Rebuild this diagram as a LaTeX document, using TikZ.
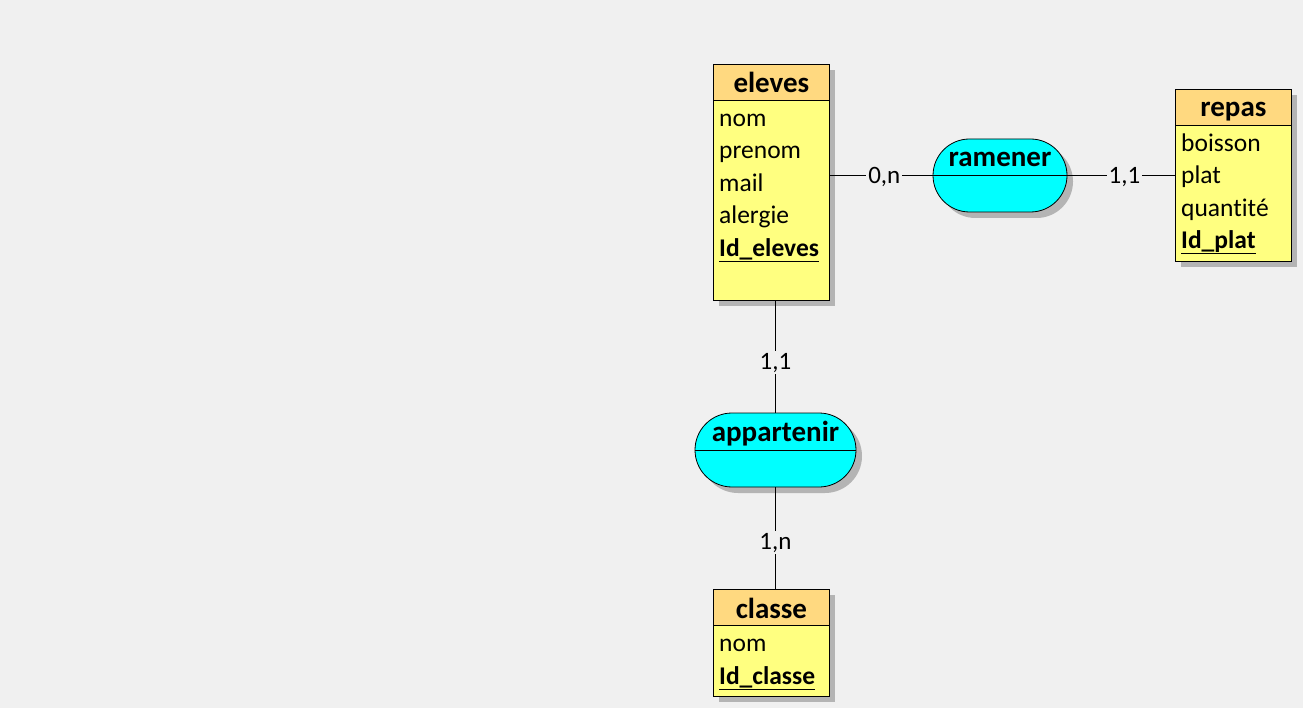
\documentclass[tikz,border=0pt]{standalone}
\usepackage{fontspec}
\setmainfont[RawFeature={-liga,-clig,-dlig}]{Carlito}
\usetikzlibrary{shapes.misc,shadows}
\definecolor{bg}{HTML}{F0F0F0}
\definecolor{entbody}{HTML}{FFFF80}
\definecolor{enthead}{HTML}{FFD980}
\definecolor{relfill}{HTML}{00FFFF}
\definecolor{shadowc}{HTML}{B4B4B4}
\begin{document}
\begin{tikzpicture}[x=1pt,y=-1pt,
  shad/.style={drop shadow={shadow xshift=6pt,shadow yshift=-6pt,fill=shadowc,opacity=1}},
  entity/.style={draw,fill=entbody,minimum width=116pt,anchor=north west,inner sep=0pt,line width=0.8pt,shad},
  rel/.style={draw,fill=relfill,rounded rectangle,inner sep=0pt,line width=0.8pt,shad},
  ttl/.style={font=\fontsize{29}{33}\selectfont\bfseries,inner sep=0pt,anchor=base},
  attr/.style={font=\fontsize{25.5}{30}\selectfont,anchor=base west,inner sep=0pt},
  keyattr/.style={font=\fontsize{25.5}{30}\selectfont\bfseries,anchor=base west,inner sep=0pt},
  card/.style={font=\fontsize{25}{29}\selectfont,fill=bg,inner sep=2pt,anchor=base},
  conn/.style={line width=0.8pt}]
\useasboundingbox[fill=bg] (0,0) rectangle (1303,708);

% entities
\node[entity,minimum height=236pt] (eleves) at (713,64) {};
\fill[enthead] (eleves.north west) rectangle ([yshift=-36pt]eleves.north east);
\draw[line width=0.8pt] (eleves.north west) rectangle (eleves.south east);
\draw[line width=0.8pt] ([yshift=-36pt]eleves.north west) -- ([yshift=-36pt]eleves.north east);
\node[ttl] (elevesT) at ([yshift=-29pt]eleves.north) {eleves};
\node[attr] (e1) at ([xshift=6pt,yshift=-62.5pt]eleves.north west) {nom};
\node[attr] (e2) at ([xshift=6pt,yshift=-95pt]eleves.north west) {prenom};
\node[attr] (e3) at ([xshift=6pt,yshift=-127.5pt]eleves.north west) {mail};
\node[attr] (e4) at ([xshift=6pt,yshift=-160pt]eleves.north west) {alergie};
\node[keyattr] (e5) at ([xshift=6pt,yshift=-192.5pt]eleves.north west) {Id\_eleves};
\draw[line width=1pt] ([yshift=-5pt]e5.base west) -- ([yshift=-5pt]e5.base east);

\node[entity,minimum height=172pt] (repas) at (1175,89) {};
\fill[enthead] (repas.north west) rectangle ([yshift=-36pt]repas.north east);
\draw[line width=0.8pt] (repas.north west) rectangle (repas.south east);
\draw[line width=0.8pt] ([yshift=-36pt]repas.north west) -- ([yshift=-36pt]repas.north east);
\node[ttl] (repasT) at ([yshift=-28pt]repas.north) {repas};
\node[attr] (r1) at ([xshift=6pt,yshift=-62.5pt]repas.north west) {boisson};
\node[attr] (r2) at ([xshift=6pt,yshift=-95pt]repas.north west) {plat};
\node[attr] (r3) at ([xshift=6pt,yshift=-127.5pt]repas.north west) {quantité};
\node[keyattr] (r4) at ([xshift=6pt,yshift=-160pt]repas.north west) {Id\_plat};
\draw[line width=1pt] ([yshift=-5pt]r4.base west) -- ([yshift=-5pt]r4.base east);

\node[entity,minimum height=107pt] (classe) at (713,589) {};
\fill[enthead] (classe.north west) rectangle ([yshift=-36pt]classe.north east);
\draw[line width=0.8pt] (classe.north west) rectangle (classe.south east);
\draw[line width=0.8pt] ([yshift=-36pt]classe.north west) -- ([yshift=-36pt]classe.north east);
\node[ttl] (classeT) at ([yshift=-29pt]classe.north) {classe};
\node[attr] (c1) at ([xshift=6pt,yshift=-62.5pt]classe.north west) {nom};
\node[keyattr] (c2) at ([xshift=6pt,yshift=-95pt]classe.north west) {Id\_classe};
\draw[line width=1pt] ([yshift=-5pt]c2.base west) -- ([yshift=-5pt]c2.base east);

% relationships
\node[rel,minimum width=134pt,minimum height=73pt] (ramener) at (1000,175.5) {};
\draw[line width=0.8pt] (ramener.west) -- (ramener.east);
\node[ttl] (ramenerT) at ([yshift=-28pt]ramener.north) {ramener};

\node[rel,minimum width=161pt,minimum height=74pt] (appartenir) at (775.5,450) {};
\draw[line width=0.8pt] (appartenir.west) -- (appartenir.east);
\node[ttl] (appartenirT) at ([yshift=-29pt]appartenir.north) {appartenir};

% connectors
\draw[conn] (eleves.east |- ramener.west) -- node[card,pos=0.53,yshift=-8pt] {0,n} (ramener.west);
\draw[conn] (ramener.east) -- node[card,pos=0.53,yshift=-8pt] {1,1} (ramener.east -| repas.west);
\draw[conn] (appartenir.north |- eleves.south) -- node[card,yshift=-12.5pt] {1,1} (appartenir.north);
\draw[conn] (appartenir.south) -- node[card,yshift=-11pt] {1,n} (appartenir.south |- classe.north);
\end{tikzpicture}
\end{document}
